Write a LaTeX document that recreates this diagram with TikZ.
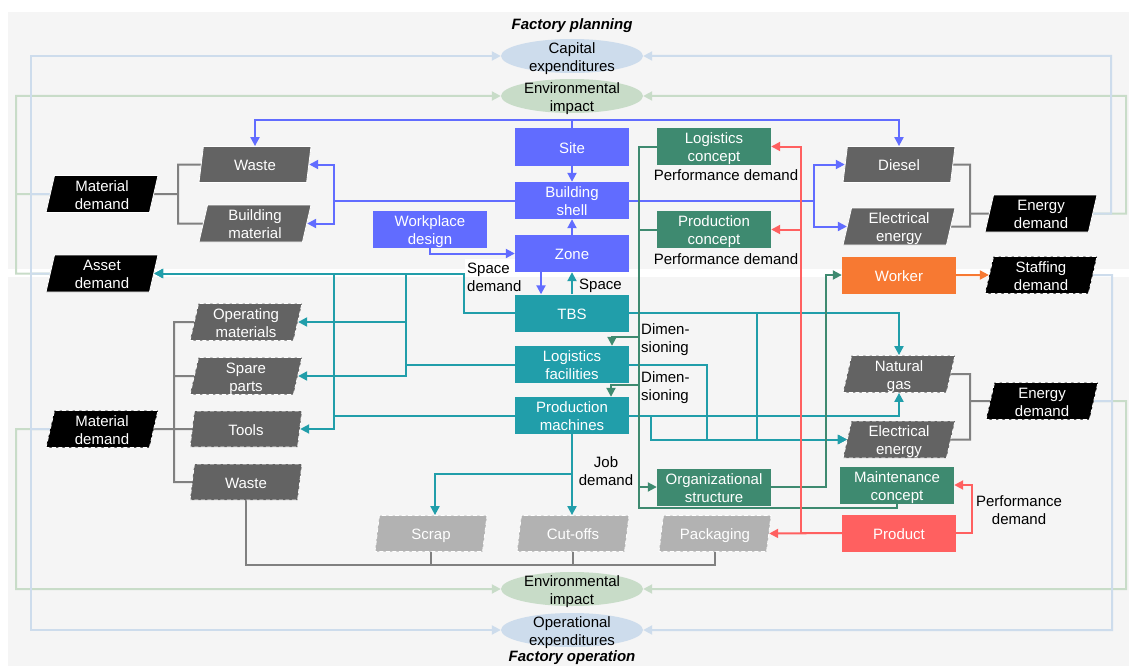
\documentclass[tikz,border=0pt]{standalone}
\usepackage{fontspec}
\setmainfont{Liberation Sans}
\usetikzlibrary{arrows.meta,shapes.geometric}

\definecolor{cBlue}{RGB}{97,108,255}
\definecolor{cTeal}{RGB}{33,158,170}
\definecolor{cGreen}{RGB}{62,138,112}
\definecolor{cOrange}{RGB}{247,121,50}
\definecolor{cRed}{RGB}{255,96,96}
\definecolor{cDark}{RGB}{99,99,99}
\definecolor{cLight}{RGB}{178,178,178}
\definecolor{cLine}{RGB}{128,128,128}
\definecolor{cCapex}{RGB}{205,220,236}
\definecolor{cEnv}{RGB}{200,220,200}
\definecolor{cPanel}{RGB}{245,245,245}

\pgfdeclarelayer{bg}
\pgfdeclarelayer{wires}
\pgfsetlayers{bg,wires,main}

\tikzset{
  txt/.style={font=\fontsize{15}{18}\selectfont},
  % fixed line metrics so that texts sit at the same height whatever their letters
  l1/.style={execute at begin node={\rule[-3.2pt]{0pt}{19pt}}},
  l2/.style={execute at begin node={\rule[-3.2pt]{0pt}{37pt}}},
  box/.style={txt, rectangle, minimum width=114pt, minimum height=37pt, inner sep=0pt, text=white, align=center},
  pgram/.style={txt, trapezium, trapezium left angle=77, trapezium right angle=103, trapezium stretches body,
                minimum width=112pt, minimum height=36pt, inner sep=0pt, text=white, align=center,
                draw=white, line width=0.8pt},
  dashedge/.style={dash pattern=on 4pt off 2.5pt},
  oval/.style={txt, l2, rectangle, minimum width=142pt, minimum height=34pt, inner sep=0pt, align=center},
  lbl/.style={txt, inner sep=0pt, align=center},
  ttl/.style={font=\fontsize{15}{18}\selectfont\bfseries\itshape, inner sep=0pt},
  wire/.style={line width=2pt, line join=miter},
  wB/.style={wire, draw=cBlue},
  wT/.style={wire, draw=cTeal},
  wG/.style={wire, draw=cGreen},
  wR/.style={wire, draw=cRed},
  wO/.style={wire, draw=cOrange},
  wGr/.style={wire, draw=cLine},
  wLB/.style={wire, draw=cCapex},
  wLG/.style={wire, draw=cEnv},
}

\begin{document}
\begin{tikzpicture}[x=1pt, y=-1pt, >={Triangle[length=9pt,width=9pt]}]
\useasboundingbox (0,0) rectangle (1129,666);

% titles and cost / impact fields
\node[ttl] (ttop) at (572,26) {Factory planning};
\node[ttl] (tbot) at (572,658) {Factory operation};
\node[oval] (capex)  at (572,56)  {Capital\\expenditures};
\node[oval] (envtop) at (572,96)  {Environmental\\impact};
\node[oval] (envbot) at (572,589) {Environmental\\impact};
\node[oval] (opex)   at (572,630) {Operational\\expenditures};

% panels: planning (top) and operation (bottom), with the ellipses on them
\begin{pgfonlayer}{bg}
  \fill[cPanel] (8,12) rectangle (1129,269);
  \fill[white] (465,259) rectangle (515,277);
  \fill[cPanel] (8,277) rectangle (1129,666);
  \fill[cCapex] (capex.center)  ellipse [x radius=71pt, y radius=17pt];
  \fill[cEnv]   (envtop.center) ellipse [x radius=71pt, y radius=17pt];
  \fill[cEnv]   (envbot.center) ellipse [x radius=71pt, y radius=17pt];
  \fill[cCapex] (opex.center)   ellipse [x radius=71pt, y radius=17pt];
\end{pgfonlayer}

% building hierarchy
\node[box, l1, fill=cBlue] (site)      at (572,147)   {Site};
\node[box, l2, fill=cBlue] (bshell)    at (572,200.5) {Building\\shell};
\node[box, l1, fill=cBlue] (zone)      at (572,253.5) {Zone};
\node[box, l2, fill=cBlue] (workplace) at (430,229.5) {Workplace\\design};

% equipment
\node[box, l1, fill=cTeal] (tbs)      at (572,313)   {TBS};
\node[box, l2, fill=cTeal] (logfac)   at (572,364.5) {Logistics\\facilities};
\node[box, l2, fill=cTeal] (prodmach) at (572,415.5) {Production\\machines};

% concepts
\node[box, l2, fill=cGreen] (logconc)   at (714,146.5) {Logistics\\concept};
\node[box, l2, fill=cGreen] (prodconc)  at (714,229.5) {Production\\concept};
\node[box, l2, fill=cGreen] (orgstr)    at (714,487)   {Organizational\\structure};
\node[box, l2, fill=cGreen] (maintconc) at (897,485)   {Maintenance\\concept};
\node[box, l1, fill=cOrange] (worker)   at (899,275)   {Worker};
\node[box, l1, fill=cRed]    (product)  at (899,533)   {Product};

% demands and resources
\node[pgram, l1, fill=cDark]  (waste1)   at (255,164.5) {Waste};
\node[pgram, l2, fill=cDark]  (buildmat) at (255,223.5) {Building\\material};
\node[pgram, l2, fill=black]  (matdem1)  at (102,194)   {Material\\demand};
\node[pgram, l2, fill=black]  (assetdem) at (102,273.5) {Asset\\demand};
\node[pgram, l1, fill=cDark]  (diesel)   at (899,164.5) {Diesel};
\node[pgram, l2, fill=cDark]  (elec1)    at (899,226.5) {Electrical\\energy};
\node[pgram, l2, fill=black]  (endem1)   at (1041,213.5) {Energy\\demand};
\node[pgram, l2, dashedge, fill=black] (staffing) at (1041,275) {Staffing\\demand};
\node[pgram, l2, dashedge, fill=cDark] (opmat)    at (246,322) {Operating\\materials};
\node[pgram, l2, dashedge, fill=cDark] (spare)    at (246,376) {Spare\\parts};
\node[pgram, l1, dashedge, fill=cDark] (tools)    at (246,429) {Tools};
\node[pgram, l1, dashedge, fill=cDark] (waste2)   at (246,482) {Waste};
\node[pgram, l2, dashedge, fill=black] (matdem2)  at (102,429) {Material\\demand};
\node[pgram, l2, dashedge, fill=cDark] (natgas)   at (899,374) {Natural\\gas};
\node[pgram, l2, dashedge, fill=cDark] (elec2)    at (899,439.5) {Electrical\\energy};
\node[pgram, l2, dashedge, fill=black] (endem2)   at (1042,401) {Energy\\demand};
\node[pgram, l1, dashedge, fill=cLight] (scrap)     at (431,533.5) {Scrap};
\node[pgram, l1, dashedge, fill=cLight] (cutoffs)   at (573,533.5) {Cut-offs};
\node[pgram, l1, dashedge, fill=cLight] (packaging) at (715,533.5) {Packaging};

% connector labels
\node[lbl, l2, align=left, anchor=west] (lspd)  at (467,276)   {Space\\demand};
\node[lbl, l1, anchor=west]             (lsp)   at (579,283)   {Space};
\node[lbl, l2, align=left, anchor=west] (ldim1) at (641,337.5) {Dimen-\\sioning};
\node[lbl, l2, align=left, anchor=west] (ldim2) at (641,385.5) {Dimen-\\sioning};
\node[lbl, l2]                          (ljob)  at (606,470)   {Job\\demand};
\node[lbl, l1] (lperf1) at (726,174) {Performance demand};
\node[lbl, l1] (lperf2) at (726,258) {Performance demand};
\node[lbl, l2] (lperf3) at (1019,509) {Performance\\demand};

\begin{pgfonlayer}{wires}
  % environmental impact feedback
  \draw[wLG] (matdem1.west) -- (16,194);
  \draw[wLG,->] (assetdem.west) -- (16,273.5) |- (envtop.west);
  \draw[wLG,->] (matdem2.west) -- (16,429) |- (envbot.west);
  \draw[wLG,->] (endem1.east) -- (1126,213.5) |- (envtop.east);
  \draw[wLG,->] (endem2.east) -- (1126,401) |- (envbot.east);
  % expenditure feedback
  \draw[wLB] (matdem1.west) -- (31,194);
  \draw[wLB] (assetdem.west) -- (31,273.5);
  \draw[wLB] (matdem2.west) -- (31,429);
  \draw[wLB,->] (31,194) |- (capex.west);
  \draw[wLB,->] (31,194) |- (opex.west);
  \draw[wLB,->] (endem1.east) -- (1111,213.5) |- (capex.east);
  \draw[wLB,->] (staffing.east) -- (1112,275) |- (opex.east);
  \draw[wLB] (endem2.east) -- (1112,401);

  % grouping brackets
  \draw[wGr] (waste1.west) -- (178,164.5) -- (178,223.5) -- (buildmat.west);
  \draw[wGr] (matdem1.east) -- (178,194);
  \draw[wGr] (opmat.west) -- (174,322) -- (174,482) -- (waste2.west);
  \draw[wGr] (spare.west) -- (174,376);
  \draw[wGr] (matdem2.east) -- (tools.west);
  \draw[wGr] (diesel.east) -- (970,164.5) -- (970,226.5) -- (elec1.east);
  \draw[wGr] (endem1.west) -- (970,213.5);
  \draw[wGr] (natgas.east) -- (970,374) -- (970,439.5) -- (elec2.east);
  \draw[wGr] (endem2.west) -- (970,401);
  \draw[wGr] (waste2.south) -- (waste2.south |- 0,565) -| (packaging.south);
  \draw[wGr] (scrap.south) -- (scrap.south |- 0,565);
  \draw[wGr] (cutoffs.south) -- (cutoffs.south |- 0,565);

  % building hierarchy
  \draw[wB,->] (site.north) -- ++(0,-8) -| (waste1.north);
  \draw[wB,->] (site.north) -- ++(0,-8) -| (diesel.north);
  \draw[wB,->] (site) -- (bshell);
  \draw[wB,->] (zone) -- (bshell);
  \draw[wB,->] (workplace.south) |- (zone.west);
  \draw[wB,->] (bshell.west) -- (334,200.5) |- (waste1.east);
  \draw[wB,->] (334,200.5) |- (buildmat.east);
  \draw[wB,->] (bshell.east) -- (814,200.5) |- (diesel.west);
  \draw[wB,->] (814,200.5) |- (elec1.west);
  \draw[wB,->] ([xshift=-31pt]zone.south) -- ([xshift=-31pt]tbs.north);

  % equipment demands
  \draw[wT,->] (tbs) -- (zone);
  \draw[wT,->] (tbs.west) -- (464,313) |- (assetdem.east);
  \draw[wT,->] (logfac.west) -- (406,364.5) |- (assetdem.east);
  \draw[wT,->] (406,364.5) |- (opmat.east);
  \draw[wT,->] (406,364.5) |- (spare.east);
  \draw[wT,->] (prodmach.west) -- (334,415.5) |- (assetdem.east);
  \draw[wT,->] (334,415.5) |- (tools.east);
  \draw[wT,->] (tbs.east) -| (natgas.north);
  \draw[wT,->] (tbs.east) -- (757,313) |- (elec2.west);
  \draw[wT,->] (logfac.east) -- (707,364.5) |- (elec2.west);
  \draw[wT,->] (prodmach.east) -| (natgas.south);
  \draw[wT,->] (prodmach.east) -- (651,415.5) |- (elec2.west);
  \draw[wT,->] (prodmach.south) -- (prodmach.south |- cutoffs.north);
  \draw[wT,->] (prodmach.south) -- ++(0,40) -| ([xshift=4pt]scrap.north);

  % concepts
  \draw[wG] (logconc.west) -| (639,508) -| (maintconc.south);
  \draw[wG] (prodconc.west) -- (639,229.5);
  \draw[wG,->] (639,337) -| ([xshift=40pt]logfac.north);
  \draw[wG,->] (639,385) -| ([xshift=39pt]prodmach.north);
  \draw[wG,->] (639,487) -- (orgstr.west);
  \draw[wG,->] (orgstr.east) -- (826,487) |- (worker.west);

  % product requirements
  \draw[wR,->] (product.west) -- (packaging.east);
  \draw[wR,->] (product.west) -- (801,533) |- (logconc.east);
  \draw[wR,->] (801,533) |- (prodconc.east);
  \draw[wR,->] (product.east) -- (972,533) |- (maintconc.east);

  % staffing
  \draw[wO,->] (worker.east) -- (staffing.west);
\end{pgfonlayer}
\end{tikzpicture}
\end{document}
